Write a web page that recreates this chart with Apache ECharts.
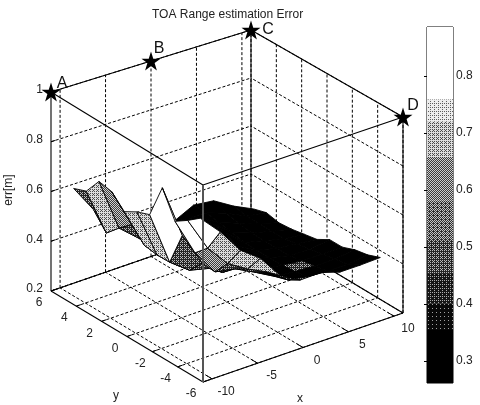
<!DOCTYPE html>
<html><head><meta charset="utf-8">
<style>html,body{margin:0;padding:0;background:#fff}#c{width:480px;height:405px}</style>
<script src="https://cdn.jsdelivr.net/npm/echarts@6/dist/echarts.min.js"></script>
</head><body><div id="c"></div>
<script>
const chartTitle = 'TOA Range estimation Error';
const xTicks = [-10, -5, 0, 5, 10];
const yTicks = [6, 4, 2, 0, -2, -4, -6];
const zTicks = [0.2, 0.4, 0.6, 0.8, 1];
const barTicks = [0.3, 0.4, 0.5, 0.6, 0.7, 0.8];
const xLim = [-11, 11], yLim = [-6, 6], zLim = [0.2, 1], barLim = [0.261, 0.886];

const surfX = [-9.9, -7.7, -5.5, -3.3, -1.1, 1.1, 3.3, 5.5, 7.7, 9.9];
const surfY = [5, 4, 3, 2, 1, 0, -1, -2, -3, -4, -5];
const surfZ = [
  [.63, .65, .72, .71, .66, .69, .71, .85, .745, .78, .82],
  [.517, .454, .505, .55, .497, .489, .49, .63, .59, .64, .737],
  [.43, .47, .436, .43, .415, .42, .43, .49, .485, .55, .635],
  [.42, .42, .42, .41, .39, .39, .41, .424, .47, .5, .574],
  [.37, .383, .407, .444, .436, .444, .436, .424, .428, .46, .476],
  [.36, .403, .44, .448, .44, .415, .395, .383, .383, .40, .43],
  [.40, .40, .39, .38, .37, .37, .37, .37, .375, .385, .432],
  [.39, .37, .36, .35, .35, .35, .35, .36, .37, .38, .407],
  [.34, .33, .33, .33, .33, .34, .35, .36, .37, .38, .407],
  [.30, .316, .305, .31, .32, .33, .36, .36, .38, .39, .41]
];
// colour data of each face (colour-bar units)
const surfC = [
  [.48, .68, .62, .66, .66, .68, .82, .82, .82, .82],
  [.5, .5, .5, .55, .52, .46, .46, .70, .64, .70],
  [.45, .45, .45, .45, .48, .48, .48, .5, .5, .68],
  [.4, .4, .4, .4, .4, .4, .4, .47, .5, .70],
  [.3, .3, .3, .3, .3, .3, .3, .3, .3, .42],
  [.3, .3, .3, .3, .3, .3, .3, .3, .3, .5],
  [.3, .3, .3, .3, .3, .3, .3, .5, .3, .3],
  [.3, .3, .3, .3, .3, .3, .3, .3, .3, .3],
  [.3, .3, .3, .3, .3, .3, .3, .3, .3, .3],
  [.3, .3, .3, .3, .3, .3, .3, .3, .3, .38]
];
const bandEdges = [.261, .354, .40, .454, .512, .582, .658, .72, .759, .886];
const bandGray = [0, .08, .18, .32, .42, .52, .66, .82, 1];

const starNames = ['A', 'B', 'C', 'D'];
const starX = [-11, 0, 11, 11];
const starY = [6, 6, 6, -6];
const starZ = [1, 1, 1, 1];
const starLabelOffset = [[11, -8], [8, -12], [17, 0], [10, -11]];

// view of the box: screen place of each corner, index = x + 2y + 4z (0 low, 1 high)
const boxCorners = [
  [203, 382], [403, 313], [51, 291], [251, 222],
  [203, 185], [403, 117], [51, 92], [251, 30]
];
function project(x, y, z) {
  const a = (x - xLim[0]) / (xLim[1] - xLim[0]);
  const b = (y - yLim[0]) / (yLim[1] - yLim[0]);
  const c = (z - zLim[0]) / (zLim[1] - zLim[0]);
  const out = [0, 0];
  for (let i = 0; i < 8; i++) {
    const w = (i & 1 ? a : 1 - a) * (i & 2 ? b : 1 - b) * (i & 4 ? c : 1 - c);
    out[0] += w * boxCorners[i][0];
    out[1] += w * boxCorners[i][1];
  }
  return out;
}

// halftone fills like the printed figure
const bayer = [0, 8, 2, 10, 12, 4, 14, 6, 3, 11, 1, 9, 15, 7, 13, 5];
const fills = bandGray.map(g => {
  if (g === 0) return '#000';
  if (g === 1) return '#fff';
  const cv = document.createElement('canvas');
  cv.width = cv.height = 4;
  const ctx = cv.getContext('2d');
  const lo = Math.round(255 * g * 0.45), hi = Math.round(255 * (g + (1 - g) * 0.6));
  for (let k = 0; k < 16; k++) {
    const v = (bayer[k] + 0.5) / 16 < g ? hi : lo;
    ctx.fillStyle = `rgb(${v},${v},${v})`;
    ctx.fillRect(k % 4, k >> 2, 1, 1);
  }
  return { image: cv, repeat: 'repeat' };
});
function fillFor(v) {
  for (let i = 0; i < bandGray.length; i++) if (v < bandEdges[i + 1]) return fills[i];
  return fills[fills.length - 1];
}

// dashed grid and solid box as 3D segments built from the ticks
const dashed = [], solid = [], tickMarks = [];
const [x0, x1] = xLim, [y0, y1] = yLim, [z0, z1] = zLim;
xTicks.forEach(t => {
  dashed.push([[t, y0, z0], [t, y1, z0]], [[t, y1, z0], [t, y1, z1]]);
  tickMarks.push([[t, y0, z0], [t, y0 + 0.45, z0]]);
});
yTicks.forEach(t => {
  dashed.push([[x0, t, z0], [x1, t, z0]], [[x1, t, z0], [x1, t, z1]]);
  tickMarks.push([[x0, t, z0], [x0 + 0.5, t, z0]]);
});
zTicks.forEach(t => {
  dashed.push([[x0, y1, t], [x1, y1, t]], [[x1, y0, t], [x1, y1, t]]);
  tickMarks.push([[x0, y1, t], [x0 + 0.5, y1, t]]);
});
solid.push(
  [[x0, y0, z0], [x1, y0, z0]], [[x0, y1, z0], [x1, y1, z0]], [[x0, y0, z0], [x0, y1, z0]], [[x1, y0, z0], [x1, y1, z0]],
  [[x0, y0, z1], [x1, y0, z1]], [[x0, y1, z1], [x1, y1, z1]], [[x0, y0, z1], [x0, y1, z1]], [[x1, y0, z1], [x1, y1, z1]],
  [[x0, y1, z0], [x0, y1, z1]], [[x1, y0, z0], [x1, y0, z1]], [[x1, y1, z0], [x1, y1, z1]]
);
const frontEdge = [[[x0, y0, z0], [x0, y0, z1]]];

function segmentSeries(segs, style, z) {
  return {
    type: 'custom', coordinateSystem: 'cartesian2d', xAxisIndex: 0, yAxisIndex: 0, silent: true, z,
    data: segs.map((s, i) => [i]),
    renderItem(p, api) {
      const s = segs[api.value(0)];
      const a = api.coord(project(...s[0])), b = api.coord(project(...s[1]));
      return { type: 'line', shape: { x1: a[0], y1: a[1], x2: b[0], y2: b[1] }, style };
    }
  };
}

// far faces first so that near ones paint over them
const faces = [];
for (let i = surfX.length - 2; i >= 0; i--) for (let j = 0; j < surfY.length - 1; j++) faces.push([i, j]);

const font = '12px "Liberation Sans", Arial, sans-serif';
const tickTexts = [
  ...xTicks.map(t => ({ p: [t, y0, z0], text: String(t), dx: 14, dy: 13, align: 'center' })),
  ...yTicks.map(t => ({ p: [x0, t, z0], text: String(t), dx: -12, dy: 12, align: 'center' })),
  ...zTicks.map(t => ({ p: [x0, y1, t], text: String(t), dx: -8, dy: -2, align: 'right' }))
];

const chart = echarts.init(document.getElementById('c'), null, { renderer: 'canvas' });
chart.setOption({
  animation: false,
  backgroundColor: '#fff',
  title: {
    text: chartTitle, left: 147, top: 4,
    textStyle: { fontFamily: 'Liberation Sans', fontSize: 12, fontWeight: 'normal', color: '#222' }
  },
  grid: [
    { left: 0, right: 0, top: 0, bottom: 0 },
    { left: 427, width: 26, top: 27, height: 356, show: true, borderColor: '#000', borderWidth: 1, backgroundColor: 'transparent' }
  ],
  xAxis: [
    { type: 'value', min: 0, max: 480, show: false, gridIndex: 0 },
    { type: 'value', min: 0, max: 1, show: false, gridIndex: 1 }
  ],
  yAxis: [
    { type: 'value', min: 0, max: 405, inverse: true, show: false, gridIndex: 0 },
    {
      type: 'value', gridIndex: 1, min: barLim[0], max: barLim[1], position: 'right',
      axisLine: { show: false }, splitLine: { show: false },
      axisTick: { show: true, inside: true, length: 3, customValues: barTicks, lineStyle: { color: '#000' } },
      axisLabel: {
        show: true, customValues: barTicks, formatter: v => v.toFixed(1), margin: 3,
        fontFamily: 'Liberation Sans', fontSize: 12, color: '#222'
      }
    },
    {
      type: 'value', gridIndex: 1, min: barLim[0], max: barLim[1], position: 'left',
      axisLine: { show: false }, splitLine: { show: false },
      axisTick: { show: true, inside: true, length: 3, customValues: barTicks, lineStyle: { color: '#000' } },
      axisLabel: { show: false }
    }
  ],
  series: [
    segmentSeries(dashed, { stroke: '#000', lineWidth: 1, lineDash: [3, 2] }, 1),
    segmentSeries(solid, { stroke: '#000', lineWidth: 1.1 }, 2),
    segmentSeries(tickMarks, { stroke: '#000', lineWidth: 1 }, 2),
    {
      type: 'custom', coordinateSystem: 'cartesian2d', xAxisIndex: 0, yAxisIndex: 0, silent: true, z: 3,
      data: faces,
      renderItem(p, api) {
        const i = api.value(0), j = api.value(1);
        const corners = [[i, j], [i + 1, j], [i + 1, j + 1], [i, j + 1]];
        const pts = corners.map(([a, b]) => api.coord(project(surfX[a], surfY[b], surfZ[a][b])));
        return {
          type: 'polygon', z2: p.dataIndex, shape: { points: pts },
          style: { fill: fillFor(surfC[i][j]), stroke: '#000', lineWidth: 0.9, lineJoin: 'round' }
        };
      }
    },
    segmentSeries(frontEdge, { stroke: '#555', lineWidth: 2 }, 4),
    {
      type: 'scatter', coordinateSystem: 'cartesian2d', xAxisIndex: 0, yAxisIndex: 0, silent: true, z: 5,
      symbol: 'path://M50 0 L62 36 L100 36 L69 58 L81 95 L50 72 L19 95 L31 58 L0 36 L38 36 Z',
      symbolSize: 19, itemStyle: { color: '#000', opacity: 1 },
      data: starNames.map((n, i) => ({
        name: n, value: project(starX[i], starY[i], starZ[i]),
        label: {
          show: true, formatter: n, position: 'inside', offset: starLabelOffset[i],
          fontFamily: 'Liberation Sans', fontSize: 16, color: '#111'
        }
      }))
    },
    {
      type: 'custom', coordinateSystem: 'cartesian2d', xAxisIndex: 0, yAxisIndex: 0, silent: true, z: 5,
      data: tickTexts.map((t, i) => [i]),
      renderItem(p, api) {
        const t = tickTexts[api.value(0)];
        const c = api.coord(project(...t.p));
        return {
          type: 'text',
          style: { text: t.text, x: c[0] + t.dx, y: c[1] + t.dy, align: t.align, verticalAlign: 'middle', font, fill: '#222' }
        };
      }
    },
    {
      type: 'custom', coordinateSystem: 'cartesian2d', xAxisIndex: 1, yAxisIndex: 1, silent: true, z: 1,
      data: bandGray.map((g, i) => [i]),
      renderItem(p, api) {
        const i = api.value(0);
        const a = api.coord([0, bandEdges[i + 1]]), b = api.coord([1, bandEdges[i]]);
        return { type: 'rect', shape: { x: a[0], y: a[1], width: b[0] - a[0], height: b[1] - a[1] }, style: { fill: fills[i] } };
      }
    }
  ],
  graphic: [
    { type: 'text', x: 116, y: 396, style: { text: 'y', font, fill: '#222', align: 'center', verticalAlign: 'middle' } },
    { type: 'text', x: 300, y: 399, style: { text: 'x', font, fill: '#222', align: 'center', verticalAlign: 'middle' } },
    { type: 'text', x: 9, y: 190, rotation: Math.PI / 2, style: { text: 'err[m]', font, fill: '#222', align: 'center', verticalAlign: 'middle' } }
  ]
});
</script></body></html>
